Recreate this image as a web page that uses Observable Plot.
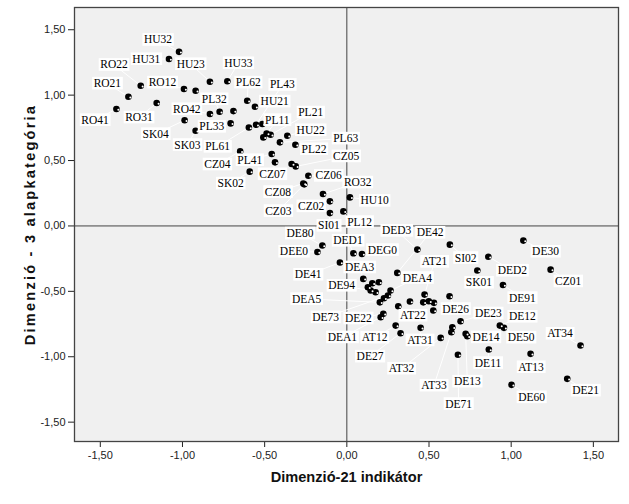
<!DOCTYPE html>
<html>
<head>
<meta charset="utf-8">
<script src="https://cdn.jsdelivr.net/npm/d3@7"></script>
<script src="https://cdn.jsdelivr.net/npm/@observablehq/plot@0.6"></script>
<style>
  html, body { margin: 0; padding: 0; background: #fff; }
</style>
</head>
<body>
<script>
const names = ["HU32","HU31","HU23","HU33","RO22","RO21","RO12","","RO31","RO41",
  "PL62","HU21","RO42","PL32","","SK04","PL33","PL61","PL43","",
  "PL11","PL21","","PL63","HU22","PL22","SK03","CZ04","PL41","CZ07",
  "","CZ05","SK02","CZ06","CZ08","CZ03","RO32","CZ02","HU10","SI01",
  "PL12","DE80","DEE0","DED1","DEG0","DE41","DED3","SI02","DE30","DED2",
  "CZ01","DE91","SK01","DE42","DEA3","","","","DE94","",
  "DEA4","DE73","","DEA5","AT22","","AT21","","","",
  "DE26","","DE22","DEA1","AT12","DE27","AT31","AT32","","AT33",
  "DE23","DE13","DE14","DE12","DE50","DE71","DE11","AT13","AT34","DE60",
  "DE21"];
const dimX = [-1.021,-1.082,-0.833,-0.727,-1.254,-1.329,-0.991,-0.920,-1.157,-1.402,
  -0.606,-0.559,-0.833,-0.774,-0.690,-0.987,-0.707,-0.596,-0.552,-0.514,
  -0.488,-0.464,-0.508,-0.407,-0.362,-0.313,-0.920,-0.649,-0.457,-0.437,
  -0.336,-0.311,-0.591,-0.234,-0.265,-0.259,-0.145,-0.103,0.019,-0.103,
  -0.021,-0.149,-0.179,0.040,0.092,-0.042,0.429,0.627,1.074,0.861,
  1.240,0.950,0.794,0.307,0.100,0.155,0.195,0.128,0.145,0.175,
  0.266,0.250,0.226,0.201,0.313,0.384,0.473,0.465,0.499,0.530,
  0.625,0.526,0.222,0.206,0.297,0.327,0.449,0.571,0.642,0.636,
  0.692,0.723,0.733,0.931,0.956,0.676,0.864,1.118,1.422,1.002,
  1.341];
const dimY = [1.331,1.276,1.102,1.106,1.072,0.988,1.047,1.034,0.940,0.894,
  0.957,0.911,0.856,0.873,0.878,0.808,0.784,0.753,0.774,0.779,
  0.707,0.697,0.677,0.639,0.690,0.621,0.728,0.570,0.550,0.486,
  0.474,0.455,0.415,0.384,0.325,0.318,0.244,0.188,0.218,0.098,
  0.111,-0.150,-0.199,-0.209,-0.214,-0.280,-0.181,-0.143,-0.112,-0.235,
  -0.334,-0.451,-0.341,-0.359,-0.405,-0.438,-0.431,-0.469,-0.494,-0.507,
  -0.494,-0.532,-0.553,-0.584,-0.614,-0.578,-0.525,-0.584,-0.576,-0.588,
  -0.538,-0.647,-0.672,-0.698,-0.762,-0.820,-0.779,-0.856,-0.775,-0.813,
  -0.729,-0.825,-0.843,-0.762,-0.779,-0.985,-0.945,-0.978,-0.914,-1.215,
  -1.169];
const labelX = [-1.149,-1.220,-0.950,-0.660,-1.417,-1.457,-1.122,null,-1.265,-1.532,
  -0.600,-0.439,-0.974,-0.807,null,-1.163,-0.822,-0.786,-0.392,null,
  -0.423,-0.220,null,-0.007,-0.220,-0.200,-0.970,-0.788,-0.591,-0.453,
  null,-0.004,-0.707,-0.111,-0.419,-0.417,0.066,-0.217,0.169,-0.109,
  0.078,-0.285,-0.322,0.007,0.216,-0.235,0.303,0.723,1.209,1.007,
  1.347,1.068,0.804,0.507,0.078,null,null,null,-0.032,null,
  0.429,-0.129,null,-0.245,0.402,null,0.534,null,null,null,
  0.662,null,0.070,-0.027,0.169,0.141,0.445,0.333,null,0.530,
  0.861,0.733,0.847,1.068,1.061,0.680,0.859,1.121,1.297,1.124,
  1.453];
const labelY = [1.423,1.276,1.238,1.245,1.232,1.089,1.097,null,0.830,0.810,
  1.097,0.952,0.894,0.970,null,0.703,0.759,0.606,1.079,null,
  0.810,0.868,null,0.669,0.733,0.588,0.620,0.471,0.504,0.396,
  null,0.533,0.325,0.384,0.260,0.115,0.333,0.151,0.193,0.002,
  0.031,-0.057,-0.196,-0.112,-0.183,-0.372,-0.036,-0.244,-0.196,-0.341,
  -0.423,-0.550,-0.433,-0.051,-0.316,null,null,null,-0.456,null,
  -0.397,-0.698,null,-0.558,-0.685,null,-0.273,null,null,null,
  -0.634,null,-0.706,-0.851,-0.853,-0.998,-0.874,-1.090,null,-1.220,
  -0.668,-1.189,-0.851,-0.693,-0.853,-1.360,-1.047,-1.079,-0.823,-1.309,
  -1.258];
const tickValues = [-1.5,-1,-0.5,0,0.5,1,1.5];
const xTitle = "Dimenzió-21 indikátor";
const yTitle = "Dimenzió - 3 alapkategória";

const points = names.map((n,i) => ({name:n, x:dimX[i], y:dimY[i], lx:labelX[i], ly:labelY[i]}));
const labeled = points.filter(d => d.name !== "");
const fmt = d => d.toFixed(2).replace(".", ",");

const chart = Plot.plot({
  width: 629,
  height: 504,
  marginLeft: 74,
  marginRight: 11,
  marginTop: 7,
  marginBottom: 63,
  style: {fontFamily: "Liberation Sans, Arial, sans-serif", fontSize: "11px", color: "#222", background: "#fff"},
  x: {domain: [-1.657, 1.653], ticks: tickValues, tickFormat: fmt, tickSize: 6, tickPadding: 4, label: null},
  y: {domain: [-1.648, 1.670], ticks: tickValues, tickFormat: fmt, tickSize: 6, tickPadding: 3, label: null},
  marks: [
    Plot.frame({fill: "#f0f0f0"}),
    Plot.ruleX([0], {stroke: "#444", strokeWidth: 1}),
    Plot.ruleY([0], {stroke: "#444", strokeWidth: 1}),
    Plot.link(labeled, {x1: "x", y1: "y", x2: "lx", y2: "ly", stroke: "#fff", strokeWidth: 1}),
    Plot.dot(points, {x: "x", y: "y", r: 3.3, fill: "#000"}),
    Plot.dot(points, {x: "x", y: "y", r: 1, fill: "#fff", dx: 1.9, dy: 0.7}),
    Plot.text(labeled, {x: "lx", y: "ly", text: "name", fontFamily: "Liberation Serif, Times New Roman, serif", fontSize: 11.5, fill: "#000"}),
    Plot.frame({stroke: "#444", strokeWidth: 1.3}),
    Plot.text([xTitle], {frameAnchor: "bottom", dy: 40, text: d => d, fontWeight: "bold", fontSize: 14.6, fill: "#111"}),
    Plot.text([yTitle], {frameAnchor: "left", textAnchor: "middle", dx: -44, rotate: -90, text: d => d, fontWeight: "bold", fontSize: 14.6, fill: "#111"})
  ]
});
document.body.append(chart);

const svgNS = "http://www.w3.org/2000/svg";
const labelSet = new Set(labeled.map(d => d.name));
chart.querySelectorAll("text").forEach(t => {
  if (t.textContent === yTitle) { t.style.letterSpacing = "2.2px"; return; }
  if (!labelSet.has(t.textContent)) return;
  const b = t.getBBox();
  const r = document.createElementNS(svgNS, "rect");
  r.setAttribute("x", b.x - 1.5);
  r.setAttribute("y", b.y - 0.3);
  r.setAttribute("width", b.width + 3);
  r.setAttribute("height", b.height + 0.6);
  r.setAttribute("fill", "#fff");
  const tr = t.getAttribute("transform");
  if (tr) r.setAttribute("transform", tr);
  t.parentNode.insertBefore(r, t);
});
</script>
</body>
</html>
